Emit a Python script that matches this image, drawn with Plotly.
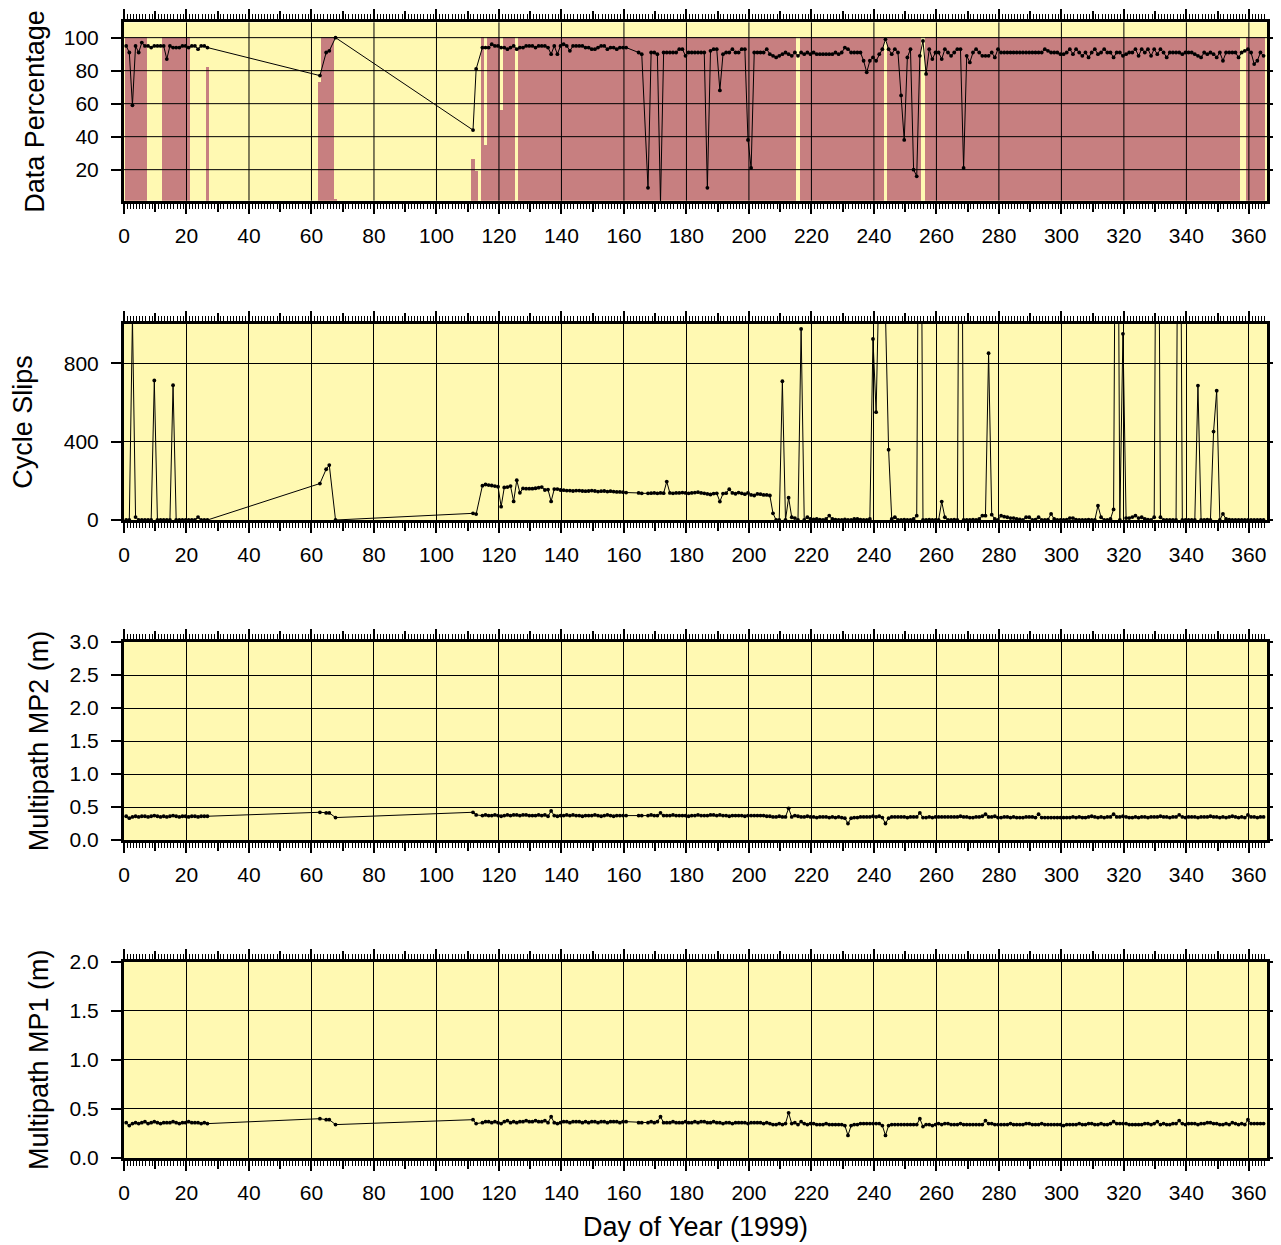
import plotly.graph_objects as go

# ---------------- data ----------------
DAYS = [*range(1, 28), 63, 65, 66, 68, 112, 113, *range(115, 162), 165, 166, *range(168, 366)]

DATA_PCT = [
    # 1-27
    95, 91, 59, 95, 91, 97, 95, 95, 94, 95,
    95, 95, 95, 87, 95, 94, 94, 94, 95, 95,
    94, 95, 95, 93, 95, 95, 94,
    # 63 65 66 68
    77, 91, 92, 100,
    # 112 113
    44, 81,
    # 115-161
    94, 94, 94, 96, 95, 95, 94, 94, 93, 94,
    95, 93, 94, 94, 95, 95, 95, 94, 95, 95,
    95, 94, 90, 95, 90, 95, 96, 95, 92, 95,
    95, 95, 95, 94, 94, 93, 93, 94, 95, 95,
    93, 94, 94, 93, 94, 94, 94,
    # 165 166
    91, 90,
    # 168-365
    9, 91, 91, 90, 0, 91, 91, 91, 91, 91,
    93, 93, 89, 91, 91, 91, 91, 91, 91, 9,
    92, 93, 93, 68, 90, 91, 91, 93, 91, 91,
    93, 93, 38, 21, 91, 91, 91, 91, 93, 90,
    89, 88, 89, 90, 91, 90, 89, 91, 89, 91,
    90, 91, 90, 91, 90, 90, 90, 90, 90, 90,
    91, 90, 91, 94, 93, 91, 91, 91, 91, 86,
    79, 86, 88, 86, 90, 93, 99, 93, 90, 93,
    91, 65, 38, 88, 93, 20, 16, 89, 98, 78,
    93, 87, 91, 91, 87, 93, 91, 89, 91, 93,
    93, 21, 89, 85, 91, 93, 91, 89, 89, 89,
    91, 88, 93, 91, 91, 91, 91, 91, 91, 91,
    91, 91, 91, 91, 91, 91, 91, 93, 92, 91,
    91, 91, 90, 90, 91, 93, 90, 93, 91, 89,
    91, 88, 91, 93, 90, 91, 93, 91, 91, 88,
    91, 91, 89, 90, 91, 91, 93, 89, 93, 91,
    93, 89, 93, 90, 93, 91, 88, 91, 91, 91,
    91, 90, 91, 91, 91, 90, 89, 88, 91, 90,
    91, 90, 88, 91, 86, 91, 91, 91, 91, 88,
    91, 92, 93, 91, 84, 86, 91, 89,
]

CYCLE_SLIPS = [
    # 1-27
    0, 0, 1030, 15, 0, 0, 0, 0, 0, 712,
    0, 0, 0, 0, 0, 688, 0, 0, 0, 0,
    0, 0, 0, 15, 0, 0, 0,
    # 63 65 66 68
    186, 259, 280, 0,
    # 112 113
    34, 30,
    # 115-161
    175, 181, 178, 176, 173, 170, 68, 166, 168, 173,
    95, 203, 139, 161, 160, 160, 160, 162, 165, 168,
    153, 155, 95, 158, 158, 153, 152, 150, 150, 148,
    150, 150, 148, 147, 148, 150, 148, 145, 147, 148,
    145, 147, 145, 143, 143, 142, 140,
    # 165 166
    138, 136,
    # 168-365
    136, 137, 138, 136, 138, 137, 196, 138, 136, 138,
    138, 140, 138, 136, 138, 140, 142, 138, 136, 133,
    130, 135, 136, 94, 135, 137, 157, 138, 134, 140,
    136, 132, 138, 128, 125, 133, 132, 128, 128, 125,
    34, 0, 0, 708, 0, 114, 14, 10, 0, 975,
    0, 14, 5, 3, 5, 2, 0, 5, 22, 5,
    2, 0, 0, 3, 0, 0, 5, 5, 2, 0,
    0, 5, 924, 550, 1300, 1150, 1050, 359, 5, 14,
    0, 0, 2, 0, 0, 5, 22, 3000, 0, 0,
    2, 0, 0, 0, 94, 14, 0, 0, 2, 0,
    3000, 0, 0, 0, 2, 0, 5, 22, 22, 851,
    27, 5, 0, 22, 17, 14, 10, 10, 5, 3,
    0, 14, 14, 0, 2, 14, 0, 0, 2, 31,
    5, 0, 0, 0, 2, 10, 10, 2, 0, 0,
    0, 2, 0, 0, 73, 14, 0, 0, 5, 54,
    3000, 0, 950, 10, 10, 15, 22, 10, 14, 5,
    2, 0, 14, 3000, 14, 0, 0, 0, 0, 0,
    3000, 0, 0, 0, 0, 0, 686, 0, 0, 2,
    0, 451, 660, 0, 31, 5, 2, 0, 0, 0,
    0, 0, 0, 0, 0, 0, 0, 0,
]

MP2 = [
    # 1-27
    0.36, 0.33, 0.35, 0.36, 0.35, 0.36, 0.36, 0.35, 0.36, 0.37,
    0.36, 0.35, 0.36, 0.35, 0.36, 0.37, 0.36, 0.35, 0.36, 0.36,
    0.35, 0.36, 0.36, 0.35, 0.36, 0.36, 0.36,
    # 63 65 66 68
    0.42, 0.41, 0.41, 0.34,
    # 112 113
    0.42, 0.38,
    # 115-161
    0.37, 0.38, 0.37, 0.37, 0.38, 0.37, 0.36, 0.37, 0.38, 0.37,
    0.38, 0.38, 0.37, 0.38, 0.38, 0.37, 0.37, 0.37, 0.38, 0.37,
    0.38, 0.36, 0.44, 0.37, 0.36, 0.37, 0.37, 0.38, 0.37, 0.38,
    0.37, 0.37, 0.36, 0.37, 0.37, 0.37, 0.38, 0.37, 0.36, 0.37,
    0.38, 0.37, 0.36, 0.37, 0.37, 0.37, 0.37,
    # 165 166
    0.37, 0.37,
    # 168-365
    0.37, 0.38, 0.37, 0.37, 0.41, 0.37, 0.37, 0.37, 0.38, 0.37,
    0.37, 0.37, 0.37, 0.36, 0.37, 0.37, 0.38, 0.37, 0.37, 0.37,
    0.38, 0.38, 0.37, 0.38, 0.37, 0.37, 0.36, 0.37, 0.37, 0.37,
    0.37, 0.36, 0.37, 0.37, 0.37, 0.37, 0.37, 0.37, 0.36, 0.36,
    0.35, 0.35, 0.36, 0.35, 0.35, 0.48, 0.35, 0.37, 0.36, 0.35,
    0.35, 0.36, 0.35, 0.35, 0.34, 0.35, 0.35, 0.35, 0.34, 0.35,
    0.34, 0.35, 0.34, 0.33, 0.25, 0.33, 0.34, 0.34, 0.35, 0.35,
    0.35, 0.35, 0.36, 0.35, 0.36, 0.34, 0.25, 0.33, 0.35, 0.35,
    0.35, 0.35, 0.35, 0.34, 0.35, 0.35, 0.35, 0.41, 0.34, 0.34,
    0.35, 0.34, 0.35, 0.35, 0.35, 0.35, 0.35, 0.35, 0.35, 0.35,
    0.36, 0.35, 0.35, 0.34, 0.34, 0.35, 0.35, 0.36, 0.39, 0.35,
    0.35, 0.36, 0.34, 0.34, 0.35, 0.35, 0.34, 0.35, 0.34, 0.34,
    0.34, 0.35, 0.35, 0.35, 0.34, 0.39, 0.34, 0.34, 0.34, 0.34,
    0.34, 0.34, 0.34, 0.34, 0.34, 0.34, 0.35, 0.34, 0.35, 0.34,
    0.34, 0.35, 0.36, 0.35, 0.34, 0.35, 0.34, 0.35, 0.35, 0.39,
    0.35, 0.35, 0.36, 0.35, 0.34, 0.34, 0.35, 0.34, 0.35, 0.35,
    0.34, 0.35, 0.35, 0.35, 0.36, 0.35, 0.35, 0.34, 0.35, 0.35,
    0.38, 0.35, 0.34, 0.35, 0.35, 0.35, 0.34, 0.35, 0.35, 0.35,
    0.36, 0.35, 0.35, 0.34, 0.35, 0.34, 0.35, 0.36, 0.35, 0.34,
    0.35, 0.34, 0.38, 0.35, 0.35, 0.34, 0.35, 0.35,
]

MP1 = [
    # 1-27
    0.36, 0.33, 0.35, 0.36, 0.35, 0.36, 0.37, 0.35, 0.36, 0.37,
    0.36, 0.35, 0.36, 0.36, 0.36, 0.37, 0.36, 0.35, 0.36, 0.36,
    0.37, 0.36, 0.36, 0.36, 0.35, 0.36, 0.35,
    # 63 65 66 68
    0.40, 0.39, 0.39, 0.34,
    # 112 113
    0.39, 0.35,
    # 115-161
    0.36, 0.37, 0.37, 0.36, 0.37, 0.36, 0.35, 0.37, 0.38, 0.36,
    0.37, 0.36, 0.37, 0.37, 0.38, 0.37, 0.37, 0.38, 0.37, 0.37,
    0.38, 0.36, 0.42, 0.36, 0.35, 0.36, 0.37, 0.37, 0.36, 0.37,
    0.37, 0.37, 0.36, 0.37, 0.36, 0.37, 0.37, 0.36, 0.37, 0.37,
    0.36, 0.37, 0.37, 0.37, 0.36, 0.37, 0.37,
    # 165 166
    0.36, 0.36,
    # 168-365
    0.36, 0.37, 0.36, 0.37, 0.42, 0.36, 0.36, 0.36, 0.37, 0.36,
    0.36, 0.36, 0.37, 0.36, 0.36, 0.37, 0.36, 0.37, 0.37, 0.36,
    0.36, 0.37, 0.36, 0.36, 0.35, 0.36, 0.36, 0.35, 0.36, 0.36,
    0.36, 0.36, 0.35, 0.36, 0.36, 0.36, 0.36, 0.35, 0.36, 0.35,
    0.34, 0.34, 0.35, 0.34, 0.35, 0.46, 0.35, 0.36, 0.34, 0.37,
    0.35, 0.34, 0.35, 0.35, 0.34, 0.34, 0.34, 0.35, 0.34, 0.34,
    0.34, 0.34, 0.34, 0.33, 0.23, 0.33, 0.34, 0.34, 0.35, 0.35,
    0.35, 0.35, 0.35, 0.35, 0.35, 0.33, 0.23, 0.33, 0.34, 0.34,
    0.34, 0.34, 0.34, 0.34, 0.34, 0.34, 0.34, 0.40, 0.32, 0.34,
    0.34, 0.33, 0.34, 0.35, 0.34, 0.35, 0.35, 0.34, 0.34, 0.34,
    0.35, 0.34, 0.34, 0.34, 0.34, 0.34, 0.34, 0.34, 0.38, 0.35,
    0.35, 0.34, 0.34, 0.34, 0.34, 0.34, 0.35, 0.34, 0.34, 0.34,
    0.34, 0.35, 0.35, 0.34, 0.34, 0.34, 0.35, 0.34, 0.34, 0.34,
    0.34, 0.34, 0.34, 0.33, 0.34, 0.34, 0.34, 0.34, 0.35, 0.34,
    0.34, 0.35, 0.35, 0.34, 0.34, 0.35, 0.34, 0.34, 0.35, 0.37,
    0.35, 0.35, 0.35, 0.35, 0.34, 0.34, 0.34, 0.34, 0.34, 0.35,
    0.35, 0.34, 0.35, 0.37, 0.34, 0.35, 0.34, 0.34, 0.35, 0.35,
    0.38, 0.35, 0.34, 0.35, 0.35, 0.35, 0.34, 0.35, 0.35, 0.36,
    0.36, 0.35, 0.35, 0.34, 0.34, 0.35, 0.34, 0.36, 0.35, 0.34,
    0.35, 0.34, 0.39, 0.35, 0.35, 0.35, 0.35, 0.35,
]

# background coverage bars (runs of days: first day, last day, percentage)
BAR_FIRST = [1, 13, 27, 63, 64, 68, 112, 113, 115, 116, 117, 121, 122, 127, 217, 245, 257, 360]
BAR_LAST = [7, 21, 27, 63, 67, 68, 112, 113, 115, 116, 120, 121, 125, 215, 243, 255, 357, 365]
BAR_PCT = [100, 100, 82, 73, 100, 2, 26, 19, 100, 35, 100, 56, 100, 100, 100, 100, 100, 100]

X_LABEL_TICKS = list(range(0, 361, 20))
X_MID_TICKS = list(range(10, 361, 20))
PCT_TICKS = [20, 40, 60, 80, 100]
CS_TICKS = [0, 400, 800]
MP2_TICKS = [0.0, 0.5, 1.0, 1.5, 2.0, 2.5, 3.0]
MP1_TICKS = [0.0, 0.5, 1.0, 1.5, 2.0]

assert len(DAYS) == len(DATA_PCT) == len(CYCLE_SLIPS) == len(MP2) == len(MP1), (
    len(DAYS), len(DATA_PCT), len(CYCLE_SLIPS), len(MP2), len(MP1))

# ---------------- style ----------------
PAGE_W, PAGE_H = 1281, 1245
OFF = 8                      # default body margin of the html page
W, H = PAGE_W - OFF, PAGE_H - OFF
# plot-area edges given in page pixels
PLOT_LEFT, PLOT_RIGHT = 123.5, 1266.7
ML = PLOT_LEFT - OFF
MR = W - (PLOT_RIGHT - OFF)
MT, MB = 4, 60
YELLOW = "#FFF9B2"
ROSE = "#C77F80"
FONT = "Liberation Sans, Arial, Helvetica, sans-serif"
DAY_SHIFT = -0.3
X_RANGE = [0, 365.8]

# panel pixel bounds (top, bottom) in page pixels
PANELS_PX = [(22.3, 200.7), (324, 520), (642, 840), (961.5, 1158)]
plot_h = H - MT - MB


def dom(top, bottom):
    return [(H - MB - (bottom - OFF)) / plot_h, (H - MB - (top - OFF)) / plot_h]


x_line = [d + DAY_SHIFT for d in DAYS]
bar_x = [(a + b) / 2 + DAY_SHIFT for a, b in zip(BAR_FIRST, BAR_LAST)]
bar_w = [b - a + 1 for a, b in zip(BAR_FIRST, BAR_LAST)]

fig = go.Figure()

line_style = dict(mode="lines+markers", line=dict(color="black", width=1),
                  marker=dict(color="black", size=3.8), showlegend=False, hoverinfo="skip")

fig.add_trace(go.Bar(x=bar_x, y=BAR_PCT, width=bar_w, marker=dict(color=ROSE, line=dict(width=0)),
                     xaxis="x", yaxis="y", showlegend=False, hoverinfo="skip"))
fig.add_trace(go.Scatter(x=x_line, y=DATA_PCT, xaxis="x", yaxis="y", **line_style))
fig.add_trace(go.Scatter(x=x_line, y=CYCLE_SLIPS, xaxis="x2", yaxis="y2", **line_style))
fig.add_trace(go.Scatter(x=x_line, y=MP2, xaxis="x3", yaxis="y3", **line_style))
fig.add_trace(go.Scatter(x=x_line, y=MP1, xaxis="x4", yaxis="y4", **line_style))
# empty traces that carry the overlaid 10-day tick axes
for i in range(4):
    fig.add_trace(go.Scatter(x=[], y=[], xaxis=f"x{i + 5}", yaxis="y" if i == 0 else f"y{i + 1}",
                             showlegend=False, hoverinfo="skip"))

tickfont = dict(family=FONT, size=21, color="black")
titlefont = dict(family=FONT, size=27, color="black")

y_specs = [
    dict(rng=[1.2, 109.3], ticks=PCT_TICKS, fmt=None, title="Data Percentage", standoff=12),
    dict(rng=[0, 1000], ticks=CS_TICKS, fmt=None, title="Cycle Slips", standoff=24),
    dict(rng=[0, 3.0], ticks=MP2_TICKS, fmt=".1f", title="Multipath MP2 (m)", standoff=14),
    dict(rng=[0, 2.0], ticks=MP1_TICKS, fmt=".1f", title="Multipath MP1 (m)", standoff=14),
]

layout = dict(
    width=W, height=H, margin=dict(l=ML, r=MR, t=MT, b=MB, autoexpand=False),
    paper_bgcolor="white", plot_bgcolor=YELLOW,
    barmode="overlay", bargap=0, showlegend=False,
    font=dict(family=FONT, color="black"),
)

for i, spec in enumerate(y_specs):
    n = "" if i == 0 else str(i + 1)
    top, bottom = PANELS_PX[i]
    layout[f"xaxis{n}"] = dict(
        domain=[0, 1], anchor=f"y{n}", range=X_RANGE, automargin=False,
        tickmode="array", tickvals=X_LABEL_TICKS,
        ticks="outside", ticklen=10, tickwidth=1.5, tickcolor="black",
        showline=True, linewidth=3, linecolor="black", mirror="ticks",
        showgrid=(i != 0), gridcolor="black", gridwidth=1, zeroline=False,
        minor=dict(dtick=1, tick0=0, ticks="outside", ticklen=5, tickwidth=1,
                   tickcolor="black", showgrid=False),
        tickfont=tickfont, ticklabelstandoff=4,
    )
    layout[f"xaxis{i + 5}"] = dict(
        overlaying="x" if i == 0 else f"x{i + 1}", anchor=f"y{n}", range=X_RANGE,
        automargin=False,
        tickmode="array", tickvals=X_MID_TICKS, ticks="outside", ticklen=10, tickwidth=1.5,
        tickcolor="black", showticklabels=False, showgrid=False, zeroline=False,
        showline=False, mirror="ticks",
    )
    layout[f"yaxis{n}"] = dict(
        domain=dom(top, bottom), anchor=f"x{n}", range=spec["rng"], automargin=False,
        tickmode="array", tickvals=spec["ticks"],
        ticks="outside", ticklen=10, tickwidth=1.5, tickcolor="black",
        showline=True, linewidth=3, linecolor="black", mirror="ticks",
        showgrid=(i != 0), gridcolor="black", gridwidth=1, zeroline=False,
        tickfont=tickfont, ticklabelstandoff=8,
        title=dict(text=spec["title"], font=titlefont, standoff=spec["standoff"]),
    )
    if spec["fmt"]:
        layout[f"yaxis{n}"]["tickformat"] = spec["fmt"]

layout["xaxis4"]["title"] = dict(text="Day of Year (1999)", font=titlefont, standoff=14)

# grid lines of the top panel drawn above the coverage bars
shapes = []
for xv in X_LABEL_TICKS[1:]:
    shapes.append(dict(type="line", xref="x", yref="y domain", x0=xv, x1=xv, y0=0, y1=1,
                       line=dict(color="black", width=1), layer="above"))
for yv in PCT_TICKS:
    shapes.append(dict(type="line", xref="x domain", yref="y", x0=0, x1=1, y0=yv, y1=yv,
                       line=dict(color="black", width=1), layer="above"))
layout["shapes"] = shapes

fig.update_layout(**layout)
fig.write_html("out.html")
